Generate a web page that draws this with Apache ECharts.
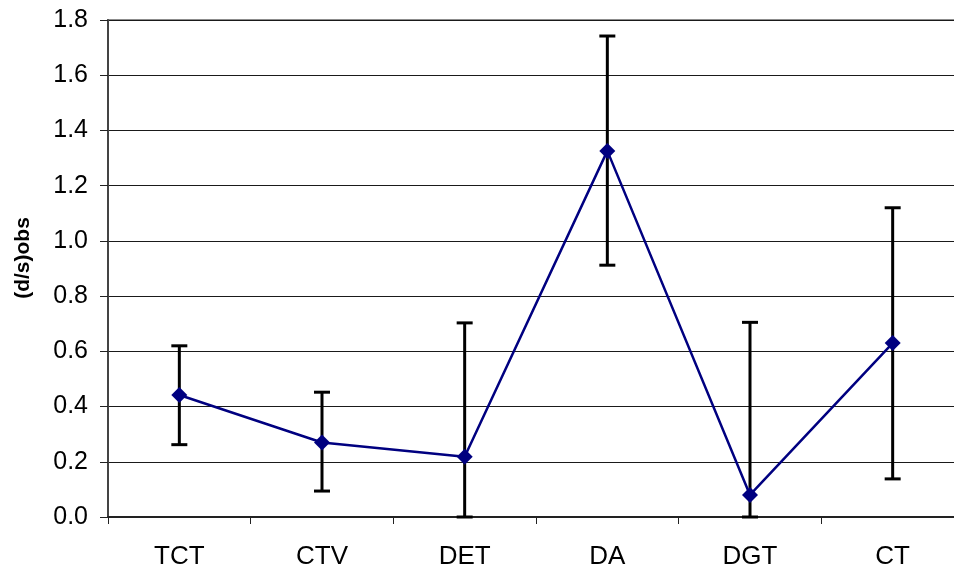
<!DOCTYPE html>
<html>
<head>
<meta charset="utf-8">
<script src="https://cdn.jsdelivr.net/npm/echarts@6/dist/echarts.min.js"></script>
<style>html,body{margin:0;padding:0;background:#fff;overflow:hidden;width:954px;height:571px}#c{width:970px;height:571px}</style>
</head>
<body>
<div id="c"></div>
<script>
const categories = ['TCT', 'CTV', 'DET', 'DA', 'DGT', 'CT'];
const values = [0.442, 0.270, 0.218, 1.326, 0.080, 0.630];
const upperBounds = [0.620, 0.452, 0.703, 1.742, 0.705, 1.120];
const lowerBounds = [0.262, 0.094, 0.0, 0.912, 0.0, 0.138];
const yTicks = [0, 0.2, 0.4, 0.6, 0.8, 1.0, 1.2, 1.4, 1.6, 1.8];
const yAxisTitle = '(d/s)obs';

const chart = echarts.init(document.getElementById('c'), null, {renderer: 'canvas'});
const errData = categories.map((c, i) => [i, lowerBounds[i], upperBounds[i]]);

chart.setOption({
  animation: false,
  backgroundColor: '#fff',
  grid: {left: 108, top: 20, width: 856, height: 497, show: true, borderColor: '#8c8c8c', borderWidth: 2, backgroundColor: 'transparent'},
  xAxis: {
    type: 'category',
    data: categories,
    boundaryGap: true,
    axisLine: {show: true, lineStyle: {color: '#222', width: 2}},
    axisTick: {show: true, length: 7, lineStyle: {color: '#222', width: 1}},
    axisLabel: {color: '#000', fontFamily: 'Liberation Sans, Arial', fontSize: 26, margin: 27},
    splitLine: {show: false}
  },
  yAxis: {
    type: 'value',
    min: yTicks[0],
    max: yTicks[yTicks.length - 1],
    interval: 0.2,
    axisLine: {show: true, lineStyle: {color: '#444', width: 2}},
    axisTick: {show: true, length: 8, lineStyle: {color: '#222', width: 1}},
    axisLabel: {color: '#000', fontFamily: 'Liberation Sans, Arial', fontSize: 25, margin: 20,
      formatter: v => v.toFixed(1)},
    splitLine: {show: true, lineStyle: {color: '#1a1a1a', width: 1}}
  },
  graphic: [{
    type: 'text',
    x: 23, y: 258,
    rotation: Math.PI / 2,
    style: {text: yAxisTitle, fill: '#000', font: 'bold 21px "Liberation Sans", Arial', textAlign: 'center', textVerticalAlign: 'middle'}
  }],
  series: [
    {
      type: 'custom',
      data: errData,
      z: 3,
      clip: false,
      renderItem: function (params, api) {
        const x = api.value(0);
        const hi = api.coord([x, api.value(2)]);
        const lo = api.coord([x, api.value(1)]);
        const hw = 8;
        const st = {stroke: '#000', lineWidth: 3};
        return {
          type: 'group',
          children: [
            {type: 'line', shape: {x1: hi[0], y1: hi[1], x2: lo[0], y2: lo[1]}, style: st},
            {type: 'line', shape: {x1: hi[0] - hw, y1: hi[1], x2: hi[0] + hw, y2: hi[1]}, style: st},
            {type: 'line', shape: {x1: lo[0] - hw, y1: lo[1], x2: lo[0] + hw, y2: lo[1]}, style: st}
          ]
        };
      }
    },
    {
      type: 'line',
      data: values,
      z: 4,
      symbol: 'diamond',
      symbolSize: 16,
      itemStyle: {color: '#000080'},
      lineStyle: {color: '#000080', width: 2.5}
    }
  ]
});
</script>
</body>
</html>
